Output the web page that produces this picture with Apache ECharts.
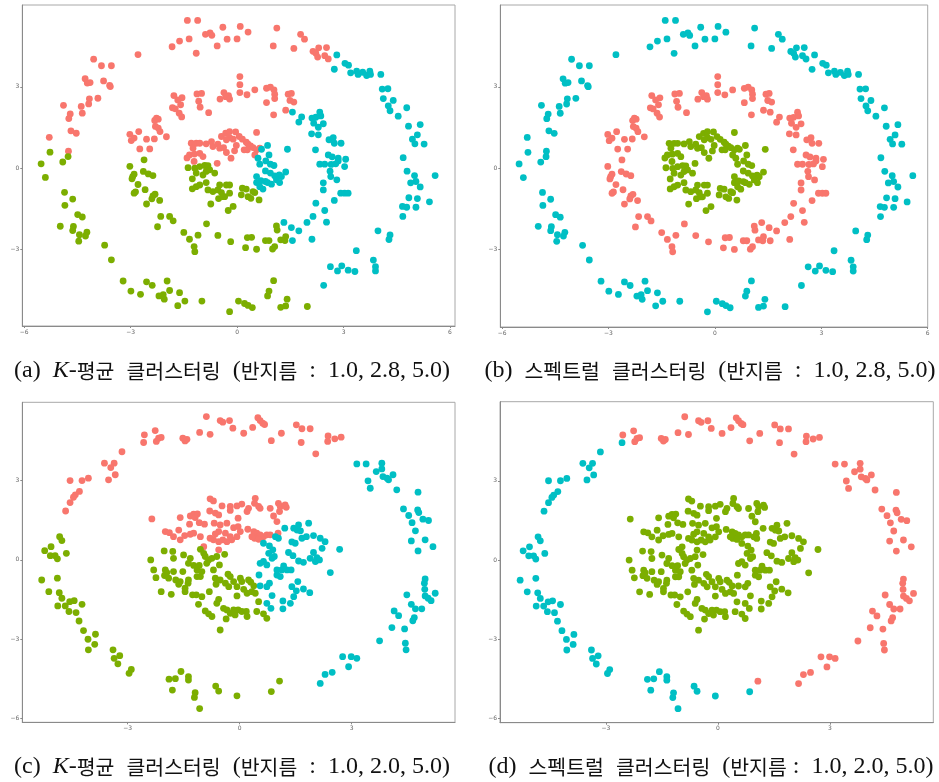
<!DOCTYPE html>
<html>
<head>
<meta charset="utf-8">
<script src="https://cdn.jsdelivr.net/npm/echarts@6/dist/echarts.min.js"></script>
<style>
  html, body { margin: 0; padding: 0; background: #fff; }
  #chart { width: 939px; height: 782px; }
</style>
</head>
<body>
<div id="chart"></div>
<script>
// ---- data set 1 (radii 1.0, 2.8, 5.0): rings split by k-means cluster ----
const r1OuterR = [[-1.40,5.45],[-1.11,5.45],[-0.40,5.20],[0.09,5.23],[1.12,5.17],[-0.89,4.94],[-0.76,4.99],[-0.71,4.90],[0.31,5.02],[-1.35,4.77],[-1.62,4.69],[-1.83,4.48],[-0.28,4.76],[0.00,4.77],[-0.56,4.51],[-1.15,4.24],[-2.79,4.19],[1.02,4.51],[1.79,4.94],[1.90,4.76],[1.60,4.42],[2.14,4.31],[2.30,4.44],[2.52,4.45],[2.22,4.24],[2.27,4.10],[2.47,4.15],[2.57,4.03],[-4.04,4.02],[-3.82,3.78],[-3.54,3.78],[-4.28,3.30],[-4.22,3.14],[-4.14,3.16],[-3.76,3.22],[-3.59,3.05],[-3.57,3.01],[-4.16,2.56],[-3.92,2.58],[-4.18,2.37],[-4.39,2.28],[-4.36,2.03],[-4.89,2.32],[-4.70,2.00],[-4.74,1.83],[-4.68,1.38],[-4.53,1.29],[-5.29,1.14],[-4.75,0.63]];
const r1OuterC = [[2.81,4.18],[3.04,3.87],[3.14,3.80],[2.74,3.65],[3.20,3.52],[3.37,3.58],[3.41,3.46],[3.54,3.54],[3.65,3.42],[3.74,3.58],[3.76,3.46],[4.05,3.46],[4.09,2.92],[4.25,2.93],[4.12,2.57],[4.40,2.50],[4.26,2.30],[4.31,2.12],[4.78,2.23],[4.54,1.92],[4.83,1.55],[5.16,1.61],[5.08,1.23],[4.94,1.07],[5.01,0.90],[5.27,0.89],[4.68,0.39],[4.79,-0.11],[5.00,-0.27],[5.04,-0.49],[4.89,-0.54],[5.16,-0.69],[5.58,-0.27],[4.84,-1.09],[5.08,-1.12],[5.42,-1.24],[4.66,-1.41],[4.78,-1.44],[5.04,-1.44],[4.67,-1.78],[3.97,-2.31],[4.31,-2.46],[4.28,-2.63],[3.36,-3.04],[3.84,-3.39],[3.90,-3.63],[3.90,-3.79],[2.63,-3.63],[2.95,-3.60],[2.83,-3.79],[3.13,-3.76],[3.32,-3.81],[2.44,-4.32]];
const r1OuterG = [[-5.52,0.16],[-5.27,0.59],[-4.91,0.23],[-4.76,0.43],[-5.40,-0.34],[-4.86,-0.89],[-4.63,-1.14],[-4.85,-1.37],[-4.49,-1.71],[-4.36,-1.80],[-4.98,-2.14],[-4.61,-2.15],[-4.63,-2.30],[-4.23,-2.36],[-4.27,-2.50],[-4.44,-2.45],[-4.46,-2.69],[-3.73,-2.84],[-3.54,-3.38],[-3.21,-4.16],[-2.99,-4.53],[-2.72,-4.65],[-2.55,-4.19],[-2.39,-4.32],[-2.20,-4.71],[-2.08,-4.66],[-2.05,-4.83],[-1.97,-4.16],[-1.90,-4.51],[-1.62,-4.59],[-1.67,-5.07],[-1.47,-4.90],[-0.99,-4.90],[-0.21,-5.29],[0.04,-4.90],[0.21,-4.99],[0.31,-5.06],[0.43,-5.14],[0.86,-4.71],[0.90,-4.53],[1.03,-4.15],[1.23,-5.13],[1.37,-5.08],[1.41,-4.83],[1.98,-5.10]];
const r1MiddleR = [[0.08,3.38],[0.08,3.08],[0.50,2.89],[0.08,2.79],[0.28,2.71],[-0.37,2.79],[-0.24,2.68],[-0.32,2.64],[-0.48,2.55],[-0.21,2.55],[0.83,2.95],[0.94,2.99],[1.04,2.89],[1.06,2.73],[1.06,2.57],[0.83,2.42],[1.03,1.97],[1.37,2.14],[1.44,2.73],[1.53,2.76],[1.49,2.50],[1.60,2.44],[-1.13,2.74],[-1.00,2.76],[-1.08,2.47],[-1.04,2.25],[-0.80,2.05],[-1.78,2.68],[-1.55,2.60],[-1.67,2.52],[-1.59,2.34],[-1.82,2.23],[-1.74,2.19],[-1.63,2.03],[-1.56,1.89],[-2.27,1.85],[-2.22,1.81],[-2.32,1.76],[-2.30,1.54],[-2.22,1.48],[-2.17,1.35],[-1.99,1.16],[-3.02,1.25],[-2.90,1.11],[-2.77,1.35],[-2.98,1.02],[-2.74,0.71],[-2.55,1.07],[-2.33,1.08],[-2.46,0.71]];
const r1MiddleC = [[1.56,2.07],[1.82,1.89],[1.74,1.70],[2.11,1.85],[2.22,1.88],[2.16,1.66],[2.33,2.07],[2.36,1.93],[2.43,1.64],[2.29,1.51],[2.10,1.27],[2.29,1.23],[2.59,1.05],[2.71,1.13],[2.74,0.92],[2.93,0.92],[2.21,0.68],[2.57,0.49],[2.68,0.42],[2.85,0.37],[3.06,0.33],[2.85,0.27],[2.33,0.15],[2.47,0.15],[2.65,0.14],[2.78,0.16],[3.03,0.06],[2.62,-0.11],[2.64,-0.31],[2.81,-0.43],[2.43,-0.54],[2.43,-0.80],[2.92,-0.92],[3.03,-0.92],[3.13,-0.92],[2.74,-1.19],[2.22,-1.29],[2.47,-1.56],[2.14,-1.78],[2.52,-1.99],[1.97,-2.00],[1.74,-2.31],[1.56,-2.67],[2.11,-2.62],[1.53,-2.19],[1.32,-2.00]];
const r1MiddleG = [[-3.02,0.07],[-2.90,-0.22],[-2.94,-0.31],[-2.96,-0.39],[-2.62,0.31],[-2.64,-0.12],[-2.50,-0.21],[-2.37,-0.27],[-2.79,-0.60],[-2.59,-0.79],[-2.86,-0.87],[-2.90,-0.92],[-2.37,-1.02],[-2.31,-0.96],[-2.40,-1.13],[-2.18,-1.19],[-2.55,-1.32],[-2.15,-1.78],[-2.24,-2.16],[-1.90,-1.78],[-1.80,-1.94],[-1.50,-2.37],[-1.34,-2.62],[-1.10,-2.47],[-0.86,-2.05],[-0.54,-2.48],[-1.21,-2.89],[-1.19,-3.08],[-0.18,-2.71],[0.24,-2.93],[0.29,-2.56],[0.41,-2.55],[0.55,-2.99],[0.80,-2.67],[0.90,-2.67],[1.00,-2.98],[1.06,-2.89],[1.11,-2.13],[1.13,-2.28],[1.23,-2.64],[1.37,-2.52],[1.35,-2.67]];
const r1InnerR = [[-1.29,0.92],[-1.15,0.92],[-1.05,0.92],[-1.24,0.74],[-1.34,0.49],[-1.20,0.52],[-1.05,0.55],[-0.96,0.43],[-1.21,0.25],[-1.41,0.38],[-0.87,0.90],[-0.72,0.98],[-0.68,0.80],[-0.54,0.89],[-0.49,0.74],[-0.56,0.18],[-0.44,1.17],[-0.32,1.29],[-0.21,1.35],[-0.04,1.34],[0.06,1.17],[-0.11,1.07],[-0.21,1.13],[-0.30,1.05],[-0.38,0.76],[-0.30,0.58],[-0.17,0.37],[-0.07,0.64],[-0.02,0.84],[0.15,1.07],[0.26,0.96],[0.31,0.89],[0.55,1.32],[0.38,0.82],[0.45,0.76],[0.55,0.68],[0.64,0.74],[0.20,0.68],[0.29,0.68],[0.50,0.49]];
const r1InnerC = [[0.69,0.70],[0.86,0.84],[0.90,0.49],[0.59,0.37],[0.64,0.15],[0.81,0.27],[0.94,0.15],[1.04,0.10],[1.42,0.70],[1.37,-0.14],[0.80,-0.10],[0.94,-0.18],[1.06,-0.28],[1.19,-0.25],[1.25,-0.31],[1.11,-0.43],[1.20,-0.53],[0.55,-0.31],[0.55,-0.53],[0.67,-0.46],[0.80,-0.49],[0.86,-0.53],[0.64,-0.68],[0.73,-0.77],[0.97,-0.59]];
const r1InnerG = [[-1.19,0.00],[-1.05,0.06],[-0.91,0.10],[-0.82,0.09],[-0.77,-0.06],[-0.87,-0.12],[-0.63,-0.18],[-1.15,-0.18],[-0.96,-0.25],[-1.38,0.02],[-1.26,-0.39],[-1.05,-0.62],[-1.15,-0.68],[-1.26,-0.76],[-0.87,-0.53],[-0.82,-0.80],[-0.68,-0.86],[-0.54,-0.80],[-0.49,-0.62],[-0.30,-0.62],[-0.21,-0.62],[-0.44,-0.90],[-0.21,-0.92],[-0.35,-1.05],[-0.74,-1.32],[-0.52,-1.12],[-0.40,-1.05],[-0.25,-1.56],[-0.11,-1.41],[0.15,-0.74],[0.26,-0.77],[0.12,-0.98],[0.31,-1.05],[0.39,-1.11],[0.50,-0.90],[0.45,-0.86],[0.62,-1.17]];

// ---- data set 2 (radii 1.0, 2.0, 5.0): name = kmeans cluster + spectral cluster ----
const r2OuterRR = [[-0.89,5.42],[-0.52,5.27],[-0.45,5.21],[-0.27,5.27],[-0.18,4.98],[0.11,4.79],[0.35,5.01],[0.49,5.38],[0.55,5.27],[0.62,5.17],[0.67,5.12],[-1.07,4.82],[-0.79,4.75],[-1.41,4.56],[-1.46,4.50],[-1.52,4.60],[-2.26,4.89],[-2.55,4.73],[-2.23,4.48],[-2.17,4.60],[-2.10,4.63],[0.85,4.51],[1.12,4.79],[1.52,5.11],[1.67,4.96],[1.89,4.96],[1.65,4.44],[2.04,4.01],[2.37,4.69],[2.36,4.48],[2.55,4.58],[2.72,4.64]];
const r2OuterRC = [[-2.57,4.44],[-3.15,4.09],[-3.62,3.66],[-3.36,3.66],[-3.45,3.49],[-3.33,3.22],[-3.51,3.03],[-4.05,3.09],[-4.22,3.00],[-4.54,3.00],[-4.29,2.59],[-4.40,2.46],[-4.45,2.37],[-4.54,2.17],[-4.66,1.85]];
const r2OuterCR = [[3.14,3.63],[3.39,3.63],[3.44,2.99],[3.50,2.71],[3.66,3.34],[3.81,3.66],[3.81,3.44],[3.84,3.15],[3.95,3.09],[3.99,3.03],[4.11,3.22],[4.21,2.65],[4.78,2.56],[4.39,1.93],[4.53,1.68],[4.77,1.89],[4.80,1.79],[4.62,1.41],[4.71,1.10],[4.91,1.54],[5.06,1.49],[4.60,0.72],[4.97,0.76],[4.78,0.34],[5.18,0.50],[4.97,-0.72],[4.95,-0.88],[4.96,-1.11],[4.97,-1.36],[5.05,-1.45],[5.13,-1.54],[5.24,-1.26],[4.48,-1.32],[4.60,-1.68],[4.71,-1.85],[4.88,-1.85],[4.14,-1.93],[4.26,-2.11],[4.68,-2.18],[4.64,-2.30],[4.08,-2.56],[4.42,-2.61],[4.44,-3.15],[4.46,-3.40],[3.75,-3.06],[2.76,-3.66],[2.99,-3.66],[3.14,-3.72],[2.92,-4.04],[2.48,-4.25],[2.29,-4.33],[2.16,-4.67]];
const r2OuterGC = [[-5.22,0.35],[-5.05,0.50],[-4.82,0.88],[-4.76,0.73],[-5.07,0.16],[-4.94,0.16],[-4.88,0.04],[-4.64,0.25],[-5.30,-0.76],[-4.88,-0.69],[-5.11,-1.20],[-4.83,-1.24],[-4.76,-1.45],[-4.87,-1.74],[-4.67,-1.74],[-4.55,-1.58],[-4.43,-1.54],[-4.22,-1.68],[-4.57,-1.95],[-4.38,-1.99],[-4.30,-2.31],[-4.18,-2.67],[-3.86,-2.81],[-4.06,-3.00],[-3.88,-3.19],[-4.05,-3.40],[-3.39,-3.40],[-3.36,-3.72],[-3.21,-3.62],[-3.26,-3.93],[-2.90,-4.14],[-2.96,-4.29],[-1.89,-4.51],[-1.72,-4.49],[-1.57,-4.22],[-1.37,-4.41],[-1.37,-4.54],[-1.80,-4.92],[-1.19,-5.02],[-1.21,-5.20],[-1.07,-5.62],[-0.64,-4.77],[-0.56,-4.96],[-0.07,-5.14],[0.85,-4.98]];
const r2OuterGR = [[1.07,-4.58]];
const r2InnerR = [[-2.35,1.55],[-1.59,1.60],[-1.99,1.07],[-1.88,1.03],[-1.77,0.88],[-1.63,1.13],[-1.59,0.76],[-1.47,0.92],[-1.32,0.97],[-1.23,1.01],[-1.05,0.88],[-0.96,0.50],[-1.32,1.66],[-1.23,1.73],[-1.13,1.74],[-1.19,1.60],[-1.08,1.41],[-1.34,1.35],[-0.94,1.35],[-0.79,2.31],[-0.70,2.23],[-0.80,1.85],[-0.65,1.77],[-0.56,1.70],[-0.47,2.04],[-0.25,2.02],[-0.25,1.87],[-0.07,2.04],[0.06,2.11],[-0.04,1.58],[-0.68,1.39],[-0.52,1.32],[-0.34,1.39],[-0.16,1.22],[-0.04,1.26],[0.02,1.07],[-0.07,0.88],[-0.21,0.76],[-0.34,0.69],[-0.25,0.88],[-0.38,1.01],[-0.45,0.76],[-0.56,0.69],[-0.70,0.76],[-0.79,0.82],[-0.56,1.07],[-0.65,0.98],[-0.56,0.38],[0.20,1.83],[0.24,1.95],[0.42,2.33],[0.40,2.14],[0.51,2.02],[0.55,1.95],[0.82,1.95],[0.91,1.66],[1.00,1.45],[1.04,2.14],[1.09,2.02],[1.22,2.08],[1.25,1.99],[1.07,1.83],[0.22,1.16],[0.38,1.07],[0.46,1.01],[0.55,0.95],[0.64,0.88],[0.73,0.95],[0.40,0.82],[0.51,0.78],[0.33,0.88],[0.82,0.95],[1.03,1.01]];
const r2InnerC = [[0.96,0.88],[1.04,0.82],[0.64,0.63],[0.80,0.53],[0.89,0.38],[0.78,0.25],[0.93,0.13],[0.87,0.06],[0.64,-0.06],[0.73,-0.19],[1.21,1.20],[1.45,1.20],[1.58,1.32],[1.54,1.13],[1.63,1.10],[1.85,1.39],[1.67,0.82],[1.79,0.88],[1.98,0.92],[2.16,0.82],[2.29,0.69],[2.21,0.44],[1.98,0.28],[2.43,-0.48],[1.31,0.28],[1.43,0.16],[1.58,-0.04],[1.71,-0.09],[1.89,0.06],[2.07,0.09],[2.03,-0.06],[2.14,0.00],[2.68,0.40],[1.40,0.68],[1.49,0.63],[0.55,-0.13],[0.52,-0.57],[0.80,-0.88],[0.73,-1.01],[1.00,-0.57],[1.09,-0.63],[1.00,-0.38],[1.13,-0.38],[1.27,-0.38],[1.38,-0.38],[1.18,-0.23],[0.55,-0.98],[0.87,-1.35],[0.73,-1.64],[0.84,-1.83],[1.16,-1.55],[1.16,-1.85],[1.36,-1.64],[1.45,-1.39],[1.56,-0.82],[1.40,-1.01],[1.52,-1.17],[1.71,-1.10],[1.88,-1.24]];
const r2InnerG = [[-2.38,0.00],[-2.30,-0.38],[-2.24,-0.67],[-2.10,-1.20],[-1.83,-1.30],[-2.02,0.34],[-1.79,0.32],[-1.77,0.06],[-1.99,-0.38],[-2.01,-0.59],[-1.95,-0.48],[-1.90,-0.69],[-1.77,-0.44],[-1.71,-0.76],[-1.59,-0.82],[-1.63,-0.92],[-1.52,-0.44],[-1.46,-1.07],[-1.38,-0.88],[-1.37,-0.76],[-1.46,-1.20],[-1.50,0.19],[-1.32,0.06],[-1.37,-0.13],[-1.23,-0.21],[-1.14,-0.38],[-1.08,-0.21],[-1.01,-0.44],[-1.14,-0.63],[-1.05,-0.63],[-1.05,0.40],[-0.96,0.25],[-0.92,0.13],[-0.83,0.00],[-0.88,-0.13],[-0.74,0.06],[-0.61,0.13],[-0.54,-0.19],[-0.40,0.21],[-0.70,-0.38],[-0.65,-0.69],[-1.26,-1.32],[-1.16,-1.32],[-1.01,-1.39],[-1.10,-1.68],[-0.81,-1.20],[-0.92,-1.93],[-0.83,-2.04],[-0.74,-2.14],[-0.56,-1.49],[-0.61,-1.64],[-0.63,-0.92],[-0.52,-0.76],[-0.38,-0.88],[-0.31,-0.54],[-0.25,-0.63],[-0.29,-1.01],[-0.16,-0.82],[0.02,-0.69],[0.06,-0.82],[-0.07,-1.01],[0.11,-1.11],[0.24,-0.76],[0.30,-0.84],[0.38,-0.98],[0.33,-1.20],[0.42,-1.26],[-0.43,-1.83],[-0.34,-1.89],[-0.25,-2.02],[-0.12,-2.08],[-0.04,-1.89],[-0.16,-1.89],[0.06,-1.95],[0.18,-1.95],[0.20,-2.14],[-0.36,-2.23],[-0.52,-2.65],[-0.07,-1.36],[0.20,-1.26],[0.51,-1.58],[0.46,-1.95],[0.64,-2.04],[0.73,-2.21]];

// tick labels
const xTicksTop = [-6, -3, 0, 3, 6];
const yTicksTop = [-3, 0, 3];
const xTicksBottom = [-3, 0, 3];
const yTicksBottom = [-6, -3, 0, 3];

// captions: {l|..} latin serif part, {k|..} italic K, rest korean
const captions = [
  '{l|(a)  }{k|K}{l|-}평균{l|  }클러스터링{l|  (}반지름{l|  :  1.0, 2.8, 5.0)}',
  '{l|(b)  }스펙트럴{l|  }클러스터링{l|  (}반지름{l|  :  1.0, 2.8, 5.0)}',
  '{l|(c)  }{k|K}{l|-}평균{l|  }클러스터링{l|  (}반지름{l|  :  1.0, 2.0, 5.0)}',
  '{l|(d)  }스펙트럴{l|  }클러스터링{l|  (}반지름{l| :  1.0, 2.0, 5.0)}',
];

const RED = '#F8766D';
const GREEN = '#7CAE00';
const CYAN = '#00BFC4';

const panels = [
  { grid: { left: 22.3, top: 5, width: 432.7, height: 321 }, x: [-6.05, 6.14], y: [-5.82, 6.02], xt: xTicksTop, yt: yTicksTop,
    groups: [[RED, r1OuterR.concat(r1MiddleR, r1InnerR)], [GREEN, r1OuterG.concat(r1MiddleG, r1InnerG)], [CYAN, r1OuterC.concat(r1MiddleC, r1InnerC)]] },
  { grid: { left: 500.3, top: 5, width: 427.4, height: 322 }, x: [-6.05, 6.0], y: [-5.85, 6.02], xt: xTicksTop, yt: yTicksTop,
    groups: [[RED, r1MiddleR.concat(r1MiddleC, r1MiddleG)], [GREEN, r1InnerR.concat(r1InnerC, r1InnerG)], [CYAN, r1OuterR.concat(r1OuterC, r1OuterG)]] },
  { grid: { left: 22.3, top: 402.3, width: 432.7, height: 320 }, x: [-5.82, 5.77], y: [-6.14, 5.96], xt: xTicksBottom, yt: yTicksBottom,
    groups: [[RED, r2OuterRR.concat(r2OuterRC, r2InnerR)], [GREEN, r2OuterGC.concat(r2OuterGR, r2InnerG)], [CYAN, r2OuterCR.concat(r2InnerC)]] },
  { grid: { left: 500, top: 401.7, width: 433.3, height: 321 }, x: [-5.84, 5.77], y: [-6.15, 5.99], xt: xTicksBottom, yt: yTicksBottom,
    groups: [[RED, r2OuterRR.concat(r2OuterCR, r2OuterGR)], [GREEN, r2InnerR.concat(r2InnerC, r2InnerG)], [CYAN, r2OuterRC.concat(r2OuterGC)]] },
];

const capPos = [[232, 371], [710, 371], [232, 767], [711, 767]];

const fmt = (v) => String(v).replace('-', '\u2212');

const SERIF = '"Liberation Serif", "DejaVu Serif", serif';
const KOREAN = '"Noto Sans CJK KR", sans-serif';

function axis(range, ticks, idx) {
  return {
    type: 'value',
    gridIndex: idx,
    min: range[0],
    max: range[1],
    axisLine: { show: true, onZero: false, lineStyle: { color: '#8a8a8a', width: 1 } },
    axisTick: { show: true, length: 2, customValues: ticks, lineStyle: { color: '#8a8a8a' } },
    axisLabel: { show: true, customValues: ticks, formatter: fmt, fontSize: 6, color: '#666', margin: 3, fontFamily: 'DejaVu Sans' },
    splitLine: { show: false },
  };
}

const option = {
  backgroundColor: '#fff',
  animation: false,
  grid: panels.map((p) => ({ ...p.grid, show: true, borderColor: '#a8a8a8', borderWidth: 1, backgroundColor: '#fff' })),
  xAxis: panels.map((p, i) => axis(p.x, p.xt, i)),
  yAxis: panels.map((p, i) => axis(p.y, p.yt, i)),
  series: [],
  graphic: captions.map((t, i) => ({
    type: 'text',
    x: capPos[i][0],
    y: capPos[i][1],
    style: {
      text: t,
      align: 'center',
      verticalAlign: 'middle',
      fontSize: 20.5,
      fontFamily: KOREAN,
      fill: '#111',
      rich: {
        l: { fontSize: 24, fontFamily: SERIF, fill: '#111' },
        k: { fontSize: 24, fontStyle: 'italic', fontFamily: SERIF, fill: '#111' },
      },
    },
  })),
};

panels.forEach((p, i) => {
  p.groups.forEach(([color, pts]) => {
    option.series.push({
      type: 'scatter',
      xAxisIndex: i,
      yAxisIndex: i,
      data: pts,
      symbolSize: 6.8,
      itemStyle: { color: color, opacity: 1 },
      silent: true,
    });
  });
});

const chart = echarts.init(document.getElementById('chart'), null, { renderer: 'canvas' });
chart.setOption(option);
</script>
</body>
</html>
